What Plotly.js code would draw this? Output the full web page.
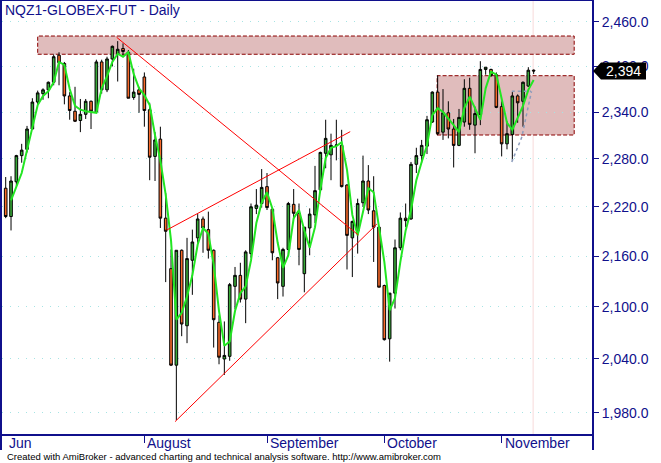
<!DOCTYPE html>
<html>
<head>
<meta charset="utf-8">
<script src="https://cdn.plot.ly/plotly-3.0.1.min.js"></script>
<style>html,body{margin:0;padding:0;background:#fff;}#chart{width:661px;height:463px;}</style>
</head>
<body>
<div id="chart"></div>
<script>
// ---- Data (bar index 1..100, Jun 23 .. early Nov) ----
const openP = [2243,2208,2251,2284,2292,2318,2353,2364,2369,2379, 2415,2404,2361,2341,2329,2337,2354,2340,2406,2369,
  2410,2416,2424,2419,2359,2369,2386,2343,2283,2305, 2206,2145,2033,2167,2078,2155,2182,2205,2192,2167,
  2082,2040,2043,2124,2137,2109,2163,2218,2224,2245, 2217,2158,2124,2168,2223,2212,2139,2194,2210,2241,
  2287,2285,2297,2297,2247,2182,2190,2225,2252,2215, 2195,2125,2063,2116,2170,2206,2205,2273,2284,2296,
  2327,2366,2314,2339,2318,2297,2327,2371,2323,2337, 2396,2396,2389,2347,2299,2311,2361,2354,2374,2395];
const highP = [2257,2258,2285,2299,2322,2358,2368,2371,2380,2416, 2419,2406,2366,2373,2357,2357,2355,2409,2409,2413,
  2428,2434,2431,2422,2397,2373,2392,2352,2314,2321, 2237,2168,2167,2168,2182,2192,2211,2208,2214,2168,
  2090,2083,2128,2147,2152,2167,2224,2242,2267,2262, 2218,2159,2170,2226,2242,2224,2195,2218,2271,2289,
  2330,2312,2330,2317,2248,2203,2230,2284,2272,2258, 2196,2126,2116,2180,2213,2224,2276,2294,2304,2335,
  2367,2388,2370,2354,2331,2344,2383,2385,2347,2407, 2399,2397,2392,2354,2328,2366,2363,2380,2399,2396];
const lowP = [2206,2191,2245,2275,2288,2317,2350,2356,2358,2375, 2375,2350,2330,2327,2314,2331,2318,2339,2364,2366,
  2400,2380,2413,2358,2356,2339,2321,2253,2252,2194, 2129,2032,1972,2066,2058,2114,2176,2164,2157,2053,
  2034,2022,2038,2097,2105,2081,2158,2211,2219,2216, 2155,2109,2112,2160,2205,2149,2117,2161,2200,2239,
  2268,2253,2278,2244,2144,2135,2163,2220,2211,2153, 2123,2061,2037,2098,2167,2195,2204,2262,2275,2286,
  2326,2310,2304,2306,2269,2296,2321,2317,2287,2323, 2389,2386,2345,2283,2292,2278,2326,2321,2373,2390];
const closeP = [2208,2252,2284,2291,2318,2353,2365,2369,2379,2413, 2405,2361,2342,2328,2337,2354,2341,2406,2369,2410,
  2427,2423,2420,2358,2366,2363,2342,2282,2304,2206, 2190,2033,2167,2080,2157,2177,2205,2194,2167,2085,
  2042,2044,2126,2137,2109,2165,2220,2222,2244,2219, 2164,2128,2168,2224,2212,2168,2195,2211,2240,2288,
  2306,2297,2297.5,2245,2185,2202,2224,2252,2216,2195, 2123,2062,2116,2170,2206,2203,2273,2284,2297,2330,
  2366,2312,2339,2318,2297,2333,2371,2324,2338,2396, 2399,2388,2346,2299,2312,2361,2352,2379,2395,2394];
const maLine = [null,2228,2245,2262,2291,2320,2349,2361,2367,2379, 2406,2402,2370,2348,2343,2341,2340,2339,2371,2387,
  2406,2417,2413,2419,2390,2371,2362,2349,2310,2278, 2235,2179,2085,2093,2112,2137,2174,2194,2187,2150,
  2095,2055,2060,2095,2116,2124,2155,2200,2225,2238, 2218,2176,2146,2161,2206,2216,2191,2170,2195,2241,
  2281,2294,2296,2301,2266,2210,2185,2213,2243,2238, 2194,2153,2096,2110,2153,2191,2216,2253,2276,2297,
  2336,2345,2340,2332,2323,2314,2345,2360,2345,2330, 2371,2393,2389,2356,2326,2317,2332,2348,2369,2382];

const monthNames = ['Jun','August','September','October','November'];
const monthIdx = [1,27,50,72,94];
const yTickVals = [1980,2040,2100,2160,2220,2280,2340,2400,2460];
const yTickText = ['1,980.0','2,040.0','2,100.0','2,160.0','2,220.0','2,280.0','2,340.0','2,400.0','2,460.0'];

// drawn studies (bar index / price)
const zoneTopX = [7.0, 107.6], zoneTopY = [2416.3, 2440.9];
const zoneBoxX = [81.9, 107.6], zoneBoxY = [2310.3, 2387.7];
const trendDownX = [21.8, 67.1], trendDownY = [2439.2, 2185.5];
const chanUpX = [31.2, 65.6], chanUpY = [2191.5, 2314.6];
const chanLoX = [32.75, 70.6], chanLoY = [1970.2, 2198.8];
const grayHX = [95.9, 99.5], grayHY = [2367, 2367];
const grayDX = [95.9, 97.8, 98.7, 99.6], grayDY = [2276, 2308, 2338, 2367];
const cursorIdx = 99.9;
const lastPrice = 2394;

const idx = openP.map((_, i) => i + 1);
const NAVY = '#10108c';

const traces = [
  {type:'candlestick', x: idx, open: openP, high: highP, low: lowP, close: closeP,
   increasing:{fillcolor:'#38a838', line:{color:'#000', width:1}},
   decreasing:{fillcolor:'#f86a2a', line:{color:'#000', width:1}},
   whiskerwidth:0, hoverinfo:'skip'},
  {type:'scatter', mode:'lines', x: idx, y: maLine, line:{color:'#22e622', width:2}, hoverinfo:'skip'},
  {type:'scatter', mode:'lines', x: trendDownX, y: trendDownY, line:{color:'#ff0000', width:1}, hoverinfo:'skip'},
  {type:'scatter', mode:'lines', x: chanUpX, y: chanUpY, line:{color:'#ff0000', width:1}, hoverinfo:'skip'},
  {type:'scatter', mode:'lines', x: chanLoX, y: chanLoY, line:{color:'#ff0000', width:1}, hoverinfo:'skip'},
  {type:'scatter', mode:'lines', x: grayHX, y: grayHY, line:{color:'#8c9cbc', width:1.5, dash:'3px,3px'}, hoverinfo:'skip'},
  {type:'scatter', mode:'lines', x: grayDX, y: grayDY, line:{color:'#8c9cbc', width:1.5, dash:'3px,3px'}, hoverinfo:'skip'}
];

const annotations = monthNames.map((m, i) => ({
  text: m, x: monthIdx[i], xref:'x', y: -0.02, yref:'paper', xanchor:'left', yanchor:'middle',
  xshift: 1, showarrow:false, font:{family:'Liberation Sans, Arial, sans-serif', size:14, color:NAVY}
}));
annotations.push({
  text:'Created with AmiBroker - advanced charting and technical analysis software. http://www.amibroker.com',
  xref:'paper', x: 0.005, y: -0.053, yref:'paper', xanchor:'left', yanchor:'middle', showarrow:false,
  font:{family:'Liberation Sans, Arial, sans-serif', size:9.5, color:'#000'}
});
annotations.push({
  text: lastPrice.toLocaleString('en-US'), xref:'paper', x: 1.0542, yref:'y', y: Math.log10(lastPrice),
  xanchor:'center', yanchor:'middle', showarrow:false,
  font:{family:'Liberation Sans, Arial, sans-serif', size:14, color:'#fff'}
});

const zoneLine = {color:'#8b0000', width:1, dash:'4px,2px'};
const shapes = [
  {type:'rect', xref:'x', yref:'y', x0: zoneTopX[0], x1: zoneTopX[1], y0: zoneTopY[0], y1: zoneTopY[1],
   fillcolor:'#e0bcbc', line: zoneLine, layer:'below'},
  {type:'rect', xref:'x', yref:'y', x0: zoneBoxX[0], x1: zoneBoxX[1], y0: zoneBoxY[0], y1: zoneBoxY[1],
   fillcolor:'#e0bcbc', line: zoneLine, layer:'below'},
  {type:'line', xref:'x', yref:'paper', x0: cursorIdx, x1: cursorIdx, y0:0, y1:1,
   line:{color:'#f7dada', width:1}, layer:'below'},
  {type:'line', xref:'paper', yref:'paper', x0: -1/590, x1: -1/590, y0: 0, y1: -0.037, line:{color:NAVY, width:2}},
  {type:'line', xref:'paper', yref:'paper', x0: 1+1/590, x1: 1+1/590, y0: 0, y1: -0.037, line:{color:NAVY, width:2}},
  {type:'path', xref:'paper', yref:'y', xsizemode:'pixel', ysizemode:'pixel', xanchor:1, yanchor: lastPrice,
   path:'M 1 0 L 9 8.5 L 54 8.5 L 54 -8.5 L 9 -8.5 Z', fillcolor:'#000', line:{width:0}, layer:'above'}
];

const layout = {
  width:661, height:463,
  margin:{l:2, r:69, t:1, b:29, pad:0},
  paper_bgcolor:'#fff', plot_bgcolor:'#fff',
  showlegend:false, hovermode:false, dragmode:false,
  boxgap:0.3,
  title:{text:'NQZ1-GLOBEX-FUT - Daily', xref:'container', x: 5/661, xanchor:'left',
         yref:'container', y: 1 - 10/463, yanchor:'middle',
         font:{family:'Liberation Sans, Arial, sans-serif', size:14, color:NAVY}},
  xaxis:{type:'linear', range:[0.306, 110.94], rangeslider:{visible:false},
         showgrid:false, zeroline:false, showline:true, linewidth:2, linecolor:NAVY, mirror:true,
         tickvals: monthIdx.slice(1), ticktext: monthIdx.slice(1).map(() => ''),
         ticks:'outside', ticklen:7, tickwidth:1, tickcolor:NAVY, fixedrange:true},
  yaxis:{type:'log', side:'right', range:[3.29153, 3.39600],
         tickvals: yTickVals, ticktext: yTickText,
         ticks:'outside', ticklen:5, tickwidth:1, tickcolor:NAVY,
         tickfont:{family:'Liberation Sans, Arial, sans-serif', size:14, color:NAVY},
         showline:true, linewidth:2, linecolor:NAVY, mirror:true, zeroline:false,
         showgrid:true, gridcolor:'#a6e4e4', gridwidth:1, griddash:'1px,7px', fixedrange:true},
  annotations: annotations,
  shapes: shapes
};

Plotly.newPlot('chart', traces, layout, {displayModeBar:false, staticPlot:true});
</script>
</body>
</html>
